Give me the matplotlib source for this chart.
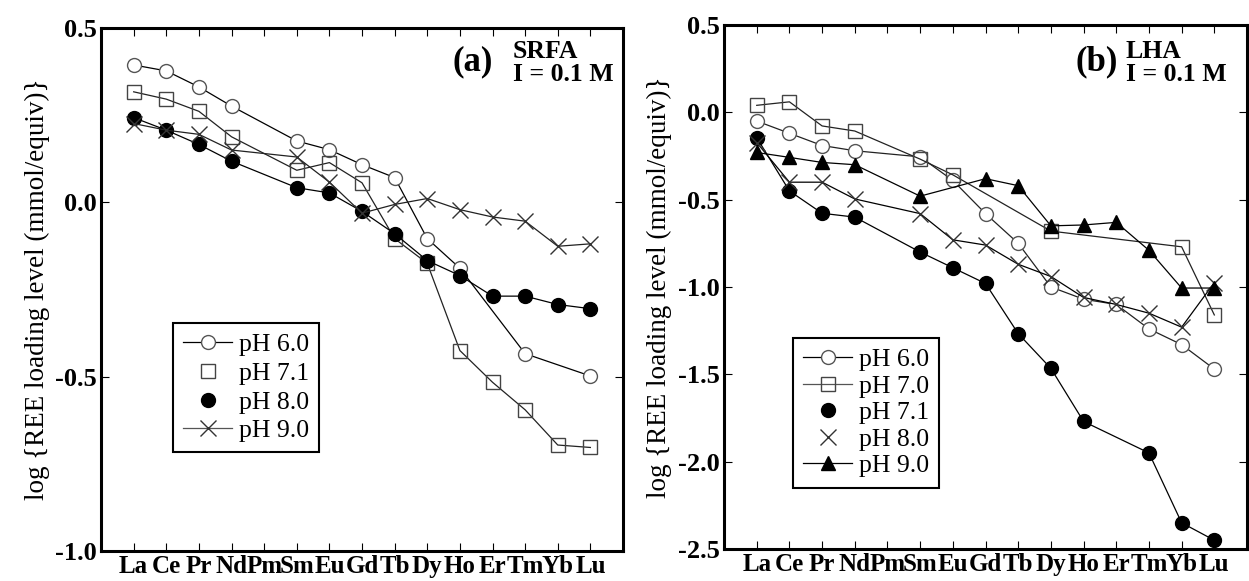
import numpy as np
import matplotlib
matplotlib.use("Agg")
import matplotlib.pyplot as plt
from matplotlib.lines import Line2D

plt.rcParams['font.family'] = ['Liberation Serif', 'DejaVu Serif']
plt.rcParams['mathtext.fontset'] = 'stix'

elements = ["La", "Ce", "Pr", "Nd", "Pm", "Sm", "Eu", "Gd", "Tb", "Dy", "Ho", "Er", "Tm", "Yb", "Lu"]

# Panel (a) SRFA, I = 0.1 M
a_ph60 = [0.394, 0.377, 0.331, 0.276, None, 0.176, 0.151, 0.108, 0.071, -0.104, -0.189, None, -0.434, None, -0.498]
a_ph71 = [0.317, 0.296, 0.261, 0.188, None, 0.092, 0.114, 0.056, -0.104, -0.175, -0.425, -0.516, -0.595, -0.696, -0.703]
a_ph80 = [0.243, 0.207, 0.166, 0.118, None, 0.042, 0.027, -0.026, -0.090, -0.167, -0.210, -0.269, -0.269, -0.293, -0.305]
a_ph90 = [0.226, 0.207, 0.195, 0.150, None, 0.130, 0.058, -0.031, -0.006, 0.011, -0.021, -0.042, -0.054, -0.126, -0.119]

# Panel (b) LHA, I = 0.1 M
b_ph60 = [-0.05, -0.12, -0.19, -0.22, None, -0.255, -0.39, -0.58, -0.75, -1.00, -1.07, -1.10, -1.24, -1.33, -1.47]
b_ph70 = [0.04, 0.06, -0.078, -0.107, None, -0.268, -0.358, None, None, -0.68, None, None, None, -0.77, -1.16]
b_ph71 = [-0.145, -0.45, -0.578, -0.60, None, -0.80, -0.89, -0.98, -1.267, -1.466, -1.77, None, -1.95, -2.35, -2.45]
b_ph80 = [-0.173, -0.40, -0.40, -0.496, None, -0.58, -0.73, -0.76, -0.87, -0.94, -1.06, -1.10, -1.15, -1.23, -0.975]
b_ph90 = [-0.23, -0.258, -0.287, -0.30, None, -0.48, None, -0.38, -0.42, -0.65, -0.645, -0.63, -0.79, -1.006, -1.006]

x = np.arange(1, len(elements) + 1)

fig = plt.figure(figsize=(12.49, 5.81), dpi=100)
axa = fig.add_axes([0.0809, 0.0516, 0.4179, 0.9002])
axb = fig.add_axes([0.5797, 0.0551, 0.4187, 0.9019])

styles = {
    'oc': dict(marker='o', mfc='white', mec='#555555', ms=10, mew=1.0),
    'os': dict(marker='s', mfc='none', mec='#444444', ms=10, mew=1.0),
    'fc': dict(marker='o', mfc='black', mec='black', ms=10, mew=1.0),
    'x': dict(marker='x', mfc='none', mec='#333333', ms=11, mew=1.0),
    'tri': dict(marker='^', mfc='black', mec='black', ms=9.5, mew=1.0),
}


def draw(ax, vals, st, lc='black'):
    v = np.array([np.nan if t is None else t for t in vals], dtype=float)
    m = ~np.isnan(v)
    ax.plot(x[m], v[m], color=lc, lw=0.9, **styles[st])


draw(axa, a_ph60, 'oc')
draw(axa, a_ph71, 'os', '#222222')
draw(axa, a_ph80, 'fc')
draw(axa, a_ph90, 'x', '#222222')

draw(axb, b_ph60, 'oc', '#222222')
draw(axb, b_ph70, 'os', '#222222')
draw(axb, b_ph71, 'fc')
draw(axb, b_ph80, 'x')
draw(axb, b_ph90, 'tri')

for ax in (axa, axb):
    ax.set_xlim(0, 16)
    ax.set_xticks(x)
    ax.set_xticklabels(elements, fontweight='bold', fontsize=18)
    ax.tick_params(axis='both', direction='in', length=6, width=0.8,
                   top=True, right=True, pad=3)
    ax.tick_params(axis='x', pad=3)
    for s in ax.spines.values():
        s.set_linewidth(2.2)
    ax.set_ylabel("log {REE loading level (mmol/equiv)}", fontsize=19.5, labelpad=4)

axa.set_ylim(-1.0, 0.5)
axa.set_yticks([-1.0, -0.5, 0.0, 0.5])
axb.set_ylim(-2.5, 0.5)
axb.set_yticks([-2.5, -2.0, -1.5, -1.0, -0.5, 0.0, 0.5])
for ax in (axa, axb):
    ax.set_yticklabels([f"{t:.1f}" for t in ax.get_yticks()], fontweight='bold', fontsize=19)

axa.text(0.712, 0.935, "(a)", transform=axa.transAxes, fontsize=25, fontweight='bold',
         ha='center', va='center')
axa.text(0.789, 0.978, "SRFA\nI = 0.1 M", transform=axa.transAxes, fontsize=18.5,
         fontweight='bold', ha='left', va='top', linespacing=1.0)
axb.text(0.712, 0.929, "(b)", transform=axb.transAxes, fontsize=25, fontweight='bold',
         ha='center', va='center')
axb.text(0.768, 0.972, "LHA\nI = 0.1 M", transform=axb.transAxes, fontsize=18.5,
         fontweight='bold', ha='left', va='top', linespacing=1.0)


def h(st, line=True, lc='black'):
    return Line2D([], [], color=lc, lw=0.9 if line else 0, ls='-' if line else 'none', **styles[st])


leg_a = axa.legend([h('oc'), h('os', False), h('fc', False), h('x', True, '#555555')],
                   ["pH 6.0", "pH 7.1", "pH 8.0", "pH 9.0"],
                   loc='upper left', bbox_to_anchor=(0.138, 0.436), fontsize=18.5,
                   frameon=True, fancybox=False, edgecolor='black', framealpha=1,
                   handlelength=1.9, handletextpad=0.25, labelspacing=0.22,
                   borderpad=0.4, borderaxespad=0)
leg_a.get_frame().set_linewidth(1.5)

leg_b = axb.legend([h('oc'), h('os', True, '#555555'), h('fc', False), h('x', False), h('tri')],
                   ["pH 6.0", "pH 7.0", "pH 7.1", "pH 8.0", "pH 9.0"],
                   loc='upper left', bbox_to_anchor=(0.132, 0.403), fontsize=18.5,
                   frameon=True, fancybox=False, edgecolor='black', framealpha=1,
                   handlelength=1.9, handletextpad=0.25, labelspacing=0.14,
                   borderpad=0.4, borderaxespad=0)
leg_b.get_frame().set_linewidth(1.5)

fig.savefig("out.png", dpi=100)
